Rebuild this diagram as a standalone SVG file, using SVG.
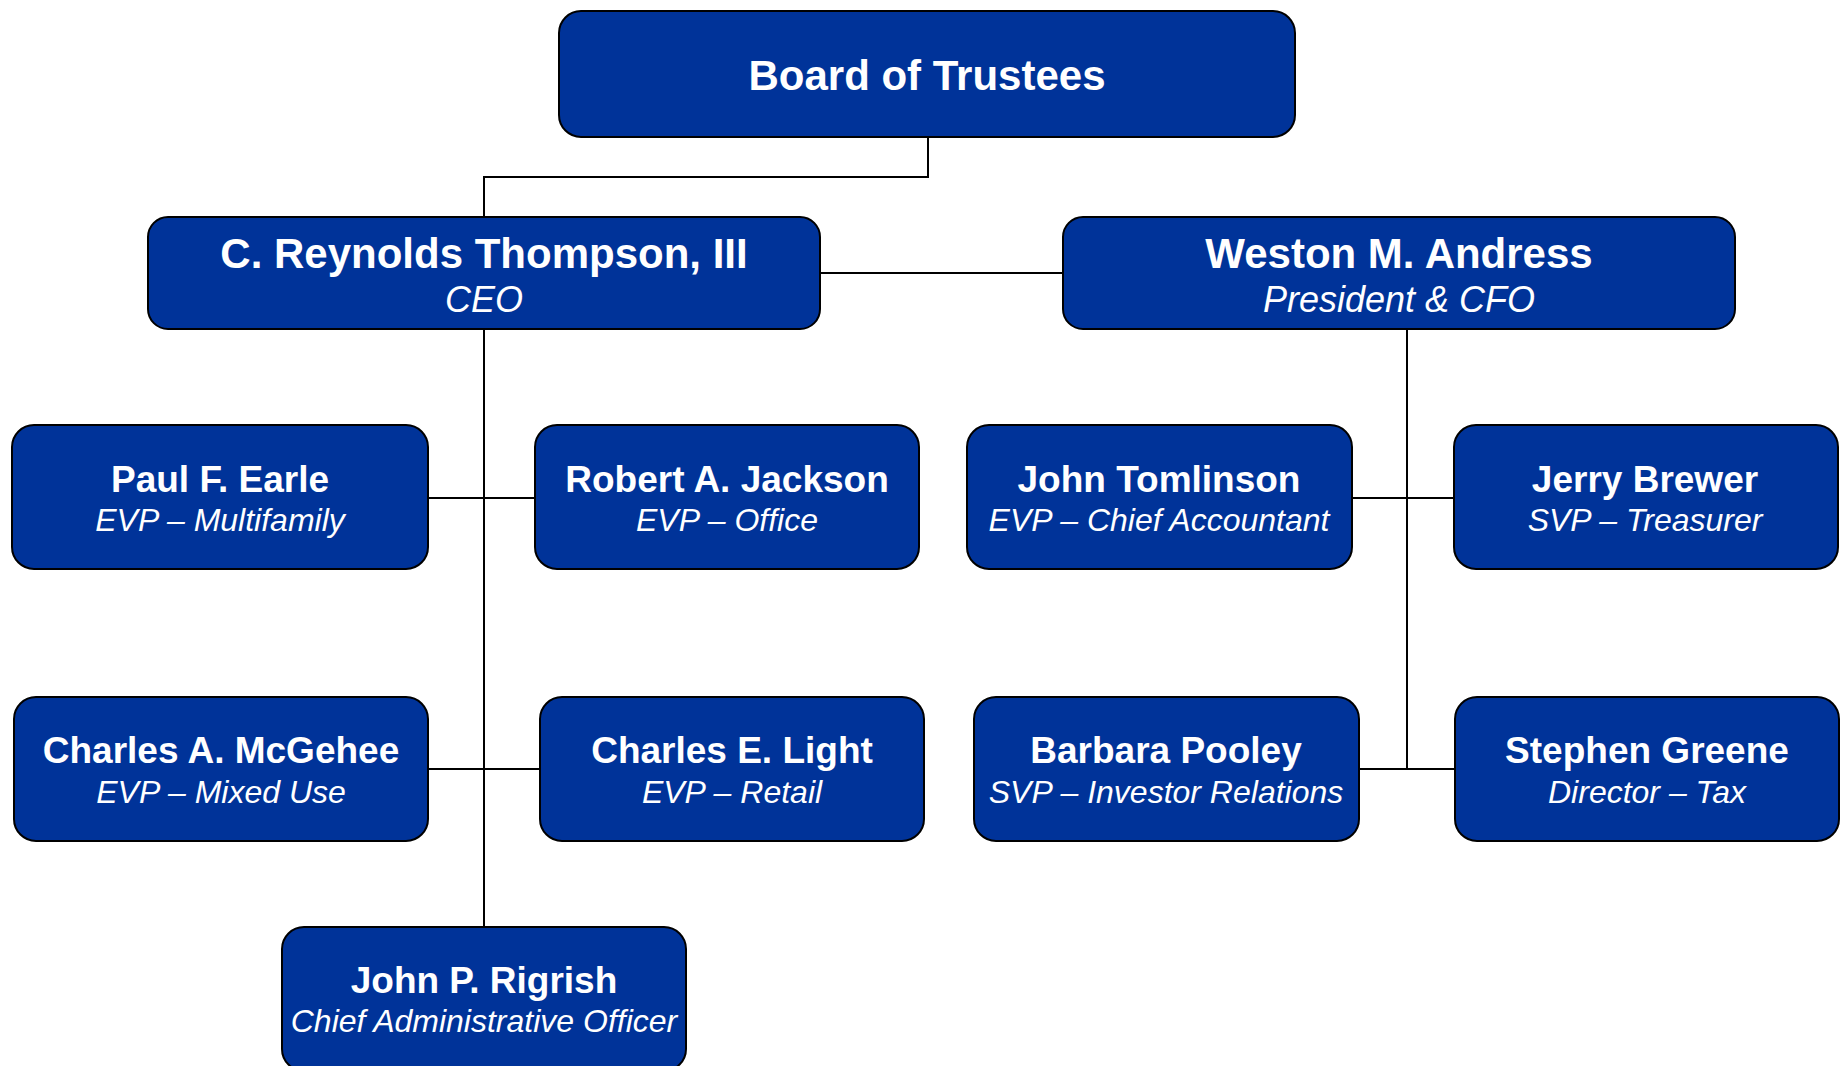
<svg xmlns="http://www.w3.org/2000/svg" width="1843" height="1066" viewBox="0 0 1843 1066">
<style>
.box{fill:#003399;stroke:#000;stroke-width:2}
.nm{font-family:"Liberation Sans",Arial,sans-serif;font-weight:bold;fill:#fff;text-anchor:middle}
.tt{font-family:"Liberation Sans",Arial,sans-serif;font-style:italic;fill:#fff;text-anchor:middle}
.ln{stroke:#000;stroke-width:2;fill:none}
</style>
<rect width="1843" height="1066" fill="#fff"/>
<g id="connectors">
<polyline class="ln" points="928,137 928,177 484,177 484,217"/>
<line class="ln" x1="820" y1="273" x2="1063" y2="273"/>
<line class="ln" x1="484" y1="329" x2="484" y2="927"/>
<line class="ln" x1="428" y1="498" x2="535" y2="498"/>
<line class="ln" x1="428" y1="769" x2="540" y2="769"/>
<polyline class="ln" points="1407,329 1407,769"/>
<line class="ln" x1="1352" y1="498" x2="1454" y2="498"/>
<line class="ln" x1="1359" y1="769" x2="1455" y2="769"/>
</g>
<g id="board">
<rect class="box" x="559" y="11" width="736" height="126" rx="22"/>
<text class="nm" x="927" y="90" font-size="42">Board of Trustees</text>
</g>
<g id="ceo">
<rect class="box" x="148" y="217" width="672" height="112" rx="20"/>
<text class="nm" x="484" y="268" font-size="42">C. Reynolds Thompson, III</text>
<text class="tt" x="484" y="312" font-size="36">CEO</text>
</g>
<g id="president">
<rect class="box" x="1063" y="217" width="672" height="112" rx="20"/>
<text class="nm" x="1399" y="268" font-size="42">Weston M. Andress</text>
<text class="tt" x="1399" y="312" font-size="36">President &amp; CFO</text>
</g>
<g id="earle">
<rect class="box" x="12" y="425" width="416" height="144" rx="22"/>
<text class="nm" x="220" y="492" font-size="37">Paul F. Earle</text>
<text class="tt" x="220" y="531" font-size="32">EVP – Multifamily</text>
</g>
<g id="jackson">
<rect class="box" x="535" y="425" width="384" height="144" rx="22"/>
<text class="nm" x="727" y="492" font-size="37">Robert A. Jackson</text>
<text class="tt" x="727" y="531" font-size="32">EVP – Office</text>
</g>
<g id="tomlinson">
<rect class="box" x="967" y="425" width="385" height="144" rx="22"/>
<text class="nm" x="1159" y="492" font-size="37">John Tomlinson</text>
<text class="tt" x="1159" y="531" font-size="32">EVP – Chief Accountant</text>
</g>
<g id="brewer">
<rect class="box" x="1454" y="425" width="384" height="144" rx="22"/>
<text class="nm" x="1645" y="492" font-size="37">Jerry Brewer</text>
<text class="tt" x="1645" y="531" font-size="32">SVP – Treasurer</text>
</g>
<g id="mcgehee">
<rect class="box" x="14" y="697" width="414" height="144" rx="22"/>
<text class="nm" x="221" y="763" font-size="37">Charles A. McGehee</text>
<text class="tt" x="221" y="803" font-size="32">EVP – Mixed Use</text>
</g>
<g id="light">
<rect class="box" x="540" y="697" width="384" height="144" rx="22"/>
<text class="nm" x="732" y="763" font-size="37">Charles E. Light</text>
<text class="tt" x="732" y="803" font-size="32">EVP – Retail</text>
</g>
<g id="pooley">
<rect class="box" x="974" y="697" width="385" height="144" rx="22"/>
<text class="nm" x="1166" y="763" font-size="37">Barbara Pooley</text>
<text class="tt" x="1166" y="803" font-size="32">SVP – Investor Relations</text>
</g>
<g id="greene">
<rect class="box" x="1455" y="697" width="384" height="144" rx="22"/>
<text class="nm" x="1647" y="763" font-size="37">Stephen Greene</text>
<text class="tt" x="1647" y="803" font-size="32">Director – Tax</text>
</g>
<g id="rigrish">
<rect class="box" x="282" y="927" width="404" height="144" rx="22"/>
<text class="nm" x="484" y="993" font-size="37">John P. Rigrish</text>
<text class="tt" x="484" y="1032" font-size="32">Chief Administrative Officer</text>
</g>
</svg>
